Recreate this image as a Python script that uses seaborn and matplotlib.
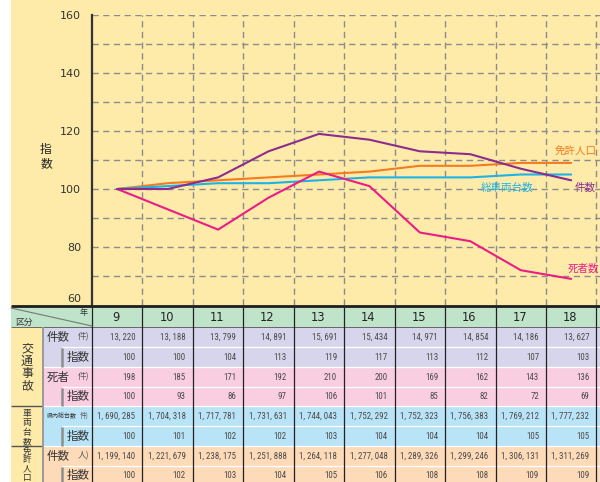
import numpy as np
import pandas as pd
import matplotlib
matplotlib.use("Agg")
import matplotlib.pyplot as plt
from matplotlib.patches import Rectangle
from matplotlib import font_manager
from matplotlib.transforms import ScaledTranslation
import seaborn as sns

# ---- data -------------------------------------------------------------
years = [9, 10, 11, 12, 13, 14, 15, 16, 17, 18]
accidents = [13220, 13188, 13799, 14891, 15691, 15434, 14971, 14854, 14186, 13627]
accident_idx = [100, 100, 104, 113, 119, 117, 113, 112, 107, 103]
deaths = [198, 185, 171, 192, 210, 200, 169, 162, 143, 136]
death_idx = [100, 93, 86, 97, 106, 101, 85, 82, 72, 69]
vehicles = [1690285, 1704318, 1717781, 1731631, 1744043, 1752292, 1752323, 1756383, 1769212, 1777232]
vehicle_idx = [100, 101, 102, 102, 103, 104, 104, 104, 105, 105]
licensed = [1199140, 1221679, 1238175, 1251888, 1264118, 1277048, 1289326, 1299246, 1306131, 1311269]
licensed_idx = [100, 102, 103, 104, 105, 106, 108, 108, 109, 109]

series_names = ["免許人口", "総車両台数", "死者数", "件数"]
series_values = [licensed_idx, vehicle_idx, death_idx, accident_idx]
series_colors = ["#F47B20", "#1DB3E6", "#EC1C86", "#8C2D8E"]
y_ticks = [60, 80, 100, 120, 140, 160]

# ---- style ------------------------------------------------------------
sns.set_style("white")
plt.rcParams["font.family"] = ["Noto Sans CJK JP", "DejaVu Sans"]

BG = "#FEEBA9"
GRID = "#8C8C8C"
W, H = 600, 482


def pick_number_font():
    names = {f.name for f in font_manager.fontManager.ttflist}
    for cand in ["Liberation Sans Narrow", "Roboto Condensed", "Open Sans Condensed"]:
        if cand in names:
            return cand, 6.4
    return "Liberation Sans", 5.3


NUM_FAMILY, NUM_SIZE = pick_number_font()

fig = plt.figure(figsize=(W / 100, H / 100), dpi=100)
fig.patch.set_facecolor("white")
fig.add_artist(Rectangle((11 / W, 0), (W - 11) / W, 1, transform=fig.transFigure,
                         facecolor=BG, edgecolor="none", zorder=0))

# ---- line chart -------------------------------------------------------
col_w = 50.44
left_px, top_px, bottom_px = 92, 15, 305
ax = fig.add_axes([left_px / W, (H - bottom_px) / H, (W - left_px) / W,
                   (bottom_px - top_px) / H])
ax.set_facecolor("none")

df = pd.DataFrame({
    "pos": np.tile(np.arange(len(years)), len(series_names)),
    "index": np.concatenate(series_values),
    "series": np.repeat(series_names, len(years)),
})
sns.lineplot(data=df, x="pos", y="index", hue="series", hue_order=series_names,
             palette=dict(zip(series_names, series_colors)), linewidth=1.5,
             legend=False, sort=False, ax=ax, zorder=3)

ax.set_xlim(-0.5, -0.5 + (W - left_px) / col_w)
ax.set_ylim(60, 160)
ax.set_xlabel("")
ax.set_ylabel("")

for k in range(1, 11):
    ax.axvline(k - 0.5, color=GRID, lw=1.0, dashes=(4.5, 3.2), zorder=1)
for v in range(70, 161, 10):
    ax.axhline(v, color=GRID, lw=1.0, dashes=(4.5, 3.2), zorder=1)

ax.set_yticks(y_ticks)
ax.set_yticklabels([str(t) for t in y_ticks], fontsize=8, color="#333333",
                   family="DejaVu Sans")
ax.tick_params(axis="y", length=0, pad=8)
# lift the bottom label clear of the table rule
lowest = ax.get_yticklabels()[0]
lowest.set_transform(lowest.get_transform() + ScaledTranslation(0, 7 / 100, fig.dpi_scale_trans))
ax.set_xticks([k - 0.5 for k in range(0, 11)])
ax.set_xticklabels([])
ax.tick_params(axis="x", direction="in", length=4, width=1, color="#444444")

for s in ["top", "right", "bottom"]:
    ax.spines[s].set_visible(False)
ax.spines["left"].set_color("#333333")
ax.spines["left"].set_linewidth(1.6)

fig.text(46 / W, 1 - 150 / H, "指", fontsize=8.5, ha="center", va="center", color="#222222")
fig.text(46 / W, 1 - 164 / H, "数", fontsize=8.5, ha="center", va="center", color="#222222")

label_pos = {"免許人口": (8.68, 112.8), "件数": (9.06, 100.6),
             "総車両台数": (7.2, 100.3), "死者数": (8.93, 72.4)}
for name, color in zip(series_names, series_colors):
    x, y = label_pos[name]
    ax.text(x, y, name, color=color, fontsize=7.6, ha="left", va="center", zorder=4)

# ---- data table -------------------------------------------------------
tb = fig.add_axes([0, 0, 1, (H - 304) / H])
tb.set_xlim(0, W)
tb.set_ylim(H, 304)
tb.axis("off")

row_tops = [327, 347, 367, 387, 406, 426, 446, 466, 486]
row_values = [accidents, accident_idx, deaths, death_idx,
              vehicles, vehicle_idx, licensed, licensed_idx]
row_colors = ["#D6D5EC", "#D6D5EC", "#F9CEE1", "#F9CEE1",
              "#B9E3F7", "#B9E3F7", "#FDDAB8", "#FDDAB8"]
HEAD = "#C0E4C9"

# header band and row bands
tb.add_patch(Rectangle((11, 307), W - 11, 20, facecolor=HEAD, edgecolor="none"))
for i in range(8):
    tb.add_patch(Rectangle((43, row_tops[i]), W - 43, row_tops[i + 1] - row_tops[i],
                           facecolor=row_colors[i], edgecolor="none"))

# row separators
for i in range(1, 8):
    start = 62 if i % 2 == 1 else 43
    tb.hlines(row_tops[i], start, W, color="white", lw=0.9)
tb.hlines(row_tops[0], 11, W, color="#555555", lw=0.6)
for i in (4, 6):
    tb.hlines(row_tops[i], 11, 43, color="#555555", lw=1.0)

# column separators
col_edges = [left_px + col_w * k for k in range(11)]
for xe in col_edges:
    tb.vlines(xe, 307, H, color="#222222", lw=0.9)
tb.vlines(43, 327, H, color="#9A9A9A", lw=1.4)
for i in (1, 3, 5, 7):
    tb.vlines(62, row_tops[i] + 1, row_tops[i + 1], color="#8E8E8E", lw=1.8)

tb.hlines(306, 11, W, color="#1E1E1E", lw=2.0)

# header cell
tb.plot([11, 92], [308, 326], color="#777777", lw=0.8)
tb.text(15, 322, "区分", fontsize=6.3, ha="left", va="center", color="#333333")
tb.text(88, 312, "年", fontsize=5.8, ha="right", va="center", color="#333333")
for i, yr in enumerate(years):
    tb.text(col_edges[i] + col_w / 2 - 1, 317, str(yr), fontsize=8.3, ha="center",
            va="center", color="#222222", family="DejaVu Sans")

# numbers
for i, vals in enumerate(row_values):
    yc = (row_tops[i] + row_tops[i + 1]) / 2
    if i == 7:
        yc = row_tops[i] + 9
    for j, v in enumerate(vals):
        txt = f"{v:,}".replace(",", ", ")
        tb.text(col_edges[j + 1] - 7, yc, txt, fontsize=NUM_SIZE, ha="right", va="center",
                color="#4A4A4A", family=NUM_FAMILY)


# row labels
def row_label(i, main, unit, main_size=8.3, unit_size=6.2):
    yc = (row_tops[i] + row_tops[i + 1]) / 2
    tb.text(47, yc, main, fontsize=main_size, ha="left", va="center", color="#333333")
    tb.text(89, yc, unit, fontsize=unit_size, ha="right", va="center", color="#555555")


row_label(0, "件数", "件)")
row_label(2, "死者", "件)")
row_label(4, "県内総台数", "件)", main_size=4.3, unit_size=4.8)
row_label(6, "件数", "人)")
for i in (1, 3, 5, 7):
    yc = (row_tops[i] + row_tops[i + 1]) / 2
    if i == 7:
        yc = row_tops[i] + 9
    tb.text(78, yc, "指数", fontsize=8.3, ha="center", va="center", color="#333333")


def stacked(chars, x, y0, step, size):
    for k, ch in enumerate(chars):
        tb.text(x, y0 + step * k, ch, fontsize=size, ha="center", va="center",
                color="#333333")


stacked("交通事故", 27, 348.5, 12.5, 8.6)
stacked("車両台数", 27, 413, 9.6, 6.3)
stacked("免許人口", 27, 451, 8.8, 6.2)

fig.savefig("out.png", dpi=100, facecolor=fig.get_facecolor())
